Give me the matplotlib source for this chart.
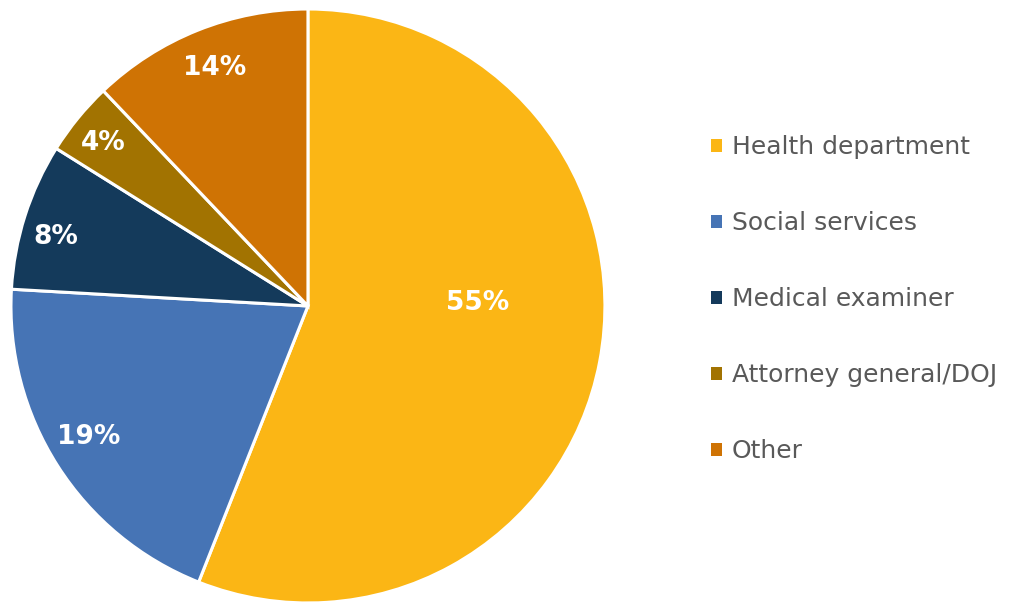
import numpy as np
import matplotlib.pyplot as plt
from matplotlib.patches import Patch

# Data (slice sizes as drawn; printed labels as shown on the chart)
categories = ["Health department", "Social services", "Medical examiner",
              "Attorney general/DOJ", "Other"]
shares = [56.0, 19.9, 8.0, 4.0, 12.1]
pct_labels = ["55%", "19%", "8%", "4%", "14%"]
colors = ["#FBB615", "#4674B5", "#143A5B", "#A27301", "#CF7304"]

# label placement (fraction of radius, angle offset in degrees from slice middle)
label_radius = [0.57, 0.86, 0.88, 0.88, 0.86]
label_shift = [11.9, -1.6, 2.3, 0.7, -0.4]

plt.rcParams['font.family'] = ['DejaVu Sans']

fig = plt.figure(figsize=(10.16, 6.04), dpi=100)
ax = fig.add_axes([0.0108, 0.0017, 0.5846, 0.9834])

wedges, _ = ax.pie(shares, colors=colors, startangle=90, counterclock=False,
                   wedgeprops=dict(edgecolor="white", linewidth=2.2))
ax.set_aspect("equal")
ax.set_xlim(-1, 1)
ax.set_ylim(-1, 1)

for w, lab, r, s in zip(wedges, pct_labels, label_radius, label_shift):
    mid = np.deg2rad((w.theta1 + w.theta2) / 2 + s)
    ax.text(r * np.cos(mid), r * np.sin(mid), lab, ha="center", va="center",
            color="white", fontsize=19, fontweight="bold")

handles = [Patch(facecolor=c, edgecolor="none") for c in colors]
leg = fig.legend(handles, categories, loc="center left",
                 bbox_to_anchor=(0.700, 0.505), frameon=False,
                 fontsize=18, labelcolor="#595959",
                 handlelength=0.42, handleheight=0.42, handletextpad=0.4,
                 labelspacing=2.08, borderaxespad=0, borderpad=0)

fig.savefig("out.png", dpi=100)
